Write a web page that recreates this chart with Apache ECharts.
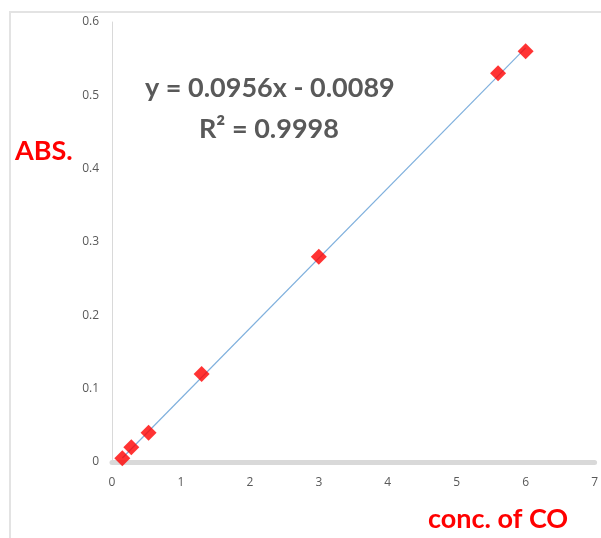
<!DOCTYPE html>
<html><head><meta charset="utf-8">
<script src="https://cdn.jsdelivr.net/npm/echarts@6/dist/echarts.min.js"></script>
<style>html,body{margin:0;padding:0;background:#fff}#c{width:601px;height:538px}</style>
</head><body><div id="c"></div>
<script>
var concX = [0.15, 0.28, 0.53, 1.3, 3.0, 5.6, 6.0];
var absY = [0.005, 0.02, 0.04, 0.12, 0.28, 0.53, 0.56];
var slope = 0.0956;
var intercept = -0.0089;
var rSquared = '0.9998';
var xTicks = [0, 1, 2, 3, 4, 5, 6, 7];
var yTicks = [0, 0.1, 0.2, 0.3, 0.4, 0.5, 0.6];

var points = concX.map(function (x, i) { return [x, absY[i]]; });
var xMin = Math.min.apply(null, concX), xMax = Math.max.apply(null, concX);
var trend = [[xMin, slope * xMin + intercept], [xMax, slope * xMax + intercept]];

var chart = echarts.init(document.getElementById('c'));
var labelFont = '"Open Sans", sans-serif';
var bigFont = 'Lato, "Open Sans", sans-serif';
chart.setOption({
  animation: false,
  grid: { left: 112, right: 3, top: 22, bottom: 76 },
  xAxis: {
    type: 'value', min: xTicks[0], max: xTicks[xTicks.length - 1], interval: 1,
    axisLine: { show: true, lineStyle: { color: '#d9d9d9', width: 5 } },
    axisTick: { show: false }, splitLine: { show: false },
    axisLabel: { color: '#595959', fontSize: 12, fontFamily: labelFont, margin: 15 }
  },
  yAxis: {
    type: 'value', min: yTicks[0], max: yTicks[yTicks.length - 1], interval: 0.1,
    axisLine: { show: true, lineStyle: { color: '#d9d9d9', width: 1 } },
    axisTick: { show: false }, splitLine: { show: false },
    axisLabel: { color: '#595959', fontSize: 12, fontFamily: labelFont, margin: 13 }
  },
  series: [
    { type: 'line', data: trend, symbol: 'none', lineStyle: { color: '#7fb0dd', width: 1.2 }, z: 2 },
    { type: 'scatter', data: points, symbol: 'diamond', symbolSize: 16, itemStyle: { color: '#ff0000' }, z: 3 }
  ],
  graphic: [
    { type: 'rect', shape: { x: 10, y: 12, width: 600, height: 540 }, style: { fill: 'none', stroke: '#e3e3e3', lineWidth: 2 }, silent: true },
    { type: 'text', left: 145, top: 75, style: { text: 'y = ' + slope + 'x - ' + Math.abs(intercept).toFixed(4), fill: '#595959', font: 'bold 27px ' + bigFont } },
    { type: 'text', left: 199, top: 116, style: { text: 'R\u00b2 = ' + rSquared, fill: '#595959', font: 'bold 27px ' + bigFont } },
    { type: 'text', left: 15, top: 138, style: { text: 'ABS.', fill: '#ff0000', font: 'bold 27px ' + bigFont } },
    { type: 'text', left: 428, top: 506, style: { text: 'conc. of CO', fill: '#ff0000', font: 'bold 27px ' + bigFont } }
  ]
});
</script></body></html>
